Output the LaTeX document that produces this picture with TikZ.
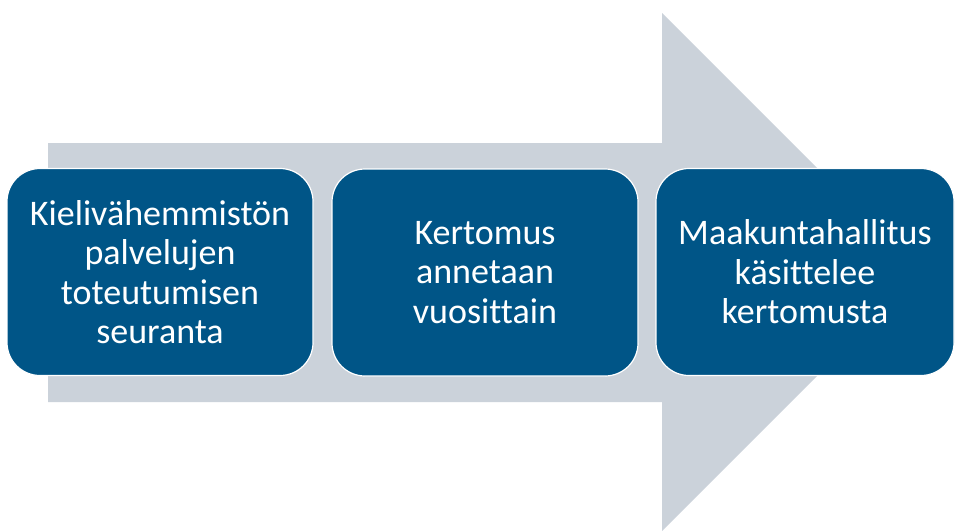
\documentclass[tikz,border=0pt]{standalone}
\usepackage{fontspec}
\setmainfont{Carlito}[Ligatures={NoCommon}]
\definecolor{boxblue}{HTML}{005587}
\definecolor{arrowgray}{HTML}{CBD2DA}
\begin{document}
\begin{tikzpicture}[x=1pt,y=-1pt,
  stepbox/.style={draw=white, line width=1.2pt, fill=boxblue, rounded corners=33pt,
    minimum width=306pt, minimum height=207pt, inner sep=0pt,
    text=white, align=center, font=\fontsize{36}{39.5}\selectfont}]
\useasboundingbox (0,0) rectangle (955,530);
\fill[arrowgray] (48,143) -- (662,143) -- (662,13) -- (921,272) -- (662,531) -- (662,402) -- (48,402) -- cycle;
\node[stepbox] (b1) at (160,272) {Kielivähemmistön\\palvelujen\\toteutumisen\\seuranta};
\node[stepbox] (b2) at (485,272.5) {Kertomus\\annetaan\\vuosittain};
\node[stepbox, minimum width=298pt] (b3) at (805,272) {Maakuntahallitus\\käsittelee\\kertomusta};
\end{tikzpicture}
\end{document}
